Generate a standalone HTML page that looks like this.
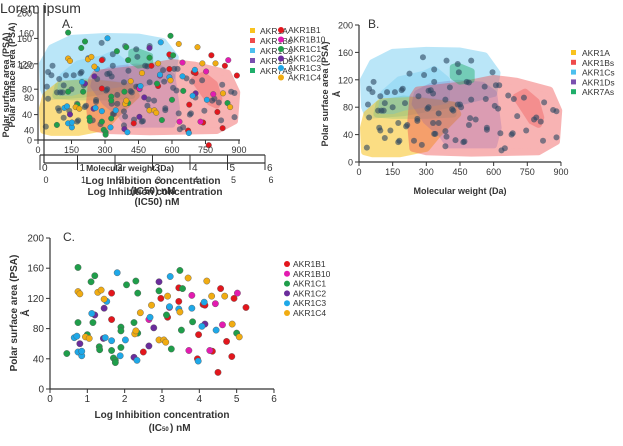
<!DOCTYPE html>
<html><head><meta charset="utf-8"><style>
body{margin:0;background:#fff;width:623px;height:446px;overflow:hidden;font-family:"Liberation Sans",sans-serif}
svg{position:absolute;left:0;top:0}
text{font-family:"Liberation Sans",sans-serif;fill:#333}
</style></head><body>
<svg id="s" width="623" height="446"></svg>
<script>
// ---- Panel B data (MW Da, PSA Å) ----
const bMW=[45,40,65,60,95,125,160,190,195,225,285,290,335,335,390,440,500,445,480,490,595,610,625,560,565,500,450,455,440,385,405,310,320,330,265,100,110,85,150,205,115,45,90,95,115,140,35,175,180,175,210,215,245,260,260,280,305,310,330,335,340,355,355,415,420,385,390,385,430,465,470,495,520,490,570,570,620,605,630,635,650,665,690,680,685,705,735,745,780,790,810,820,825,865,880,880];
const bPSA=[107,84,117,102,96,102,102,105,107,129,153,127,135,117,148,143,148,131,117,116,131,112,112,110,92,91,84,80,84,91,109,104,105,100,96,75,75,75,80,86,86,65,50,46,35,46,21,57,31,29,52,54,31,60,63,25,78,80,57,41,41,57,71,77,75,45,37,23,32,29,30,64,62,54,50,47,78,82,42,17,20,97,92,40,42,67,94,46,62,65,59,31,87,76,74,36];
const groups=["AKR1A","AKR1Bs","AKR1Cs","AKR1Ds","AKR7As"];
const gColors=["#f9c31f","#ef4b4b","#4cc0ee","#7a4fb0","#1fae6a"];
// ---- Panel C data (log IC50, PSA) ----
const cSeries=["AKR1B1","AKR1B10","AKR1C1","AKR1C2","AKR1C3","AKR1C4"];
const cColors=["#e3161c","#e31bb0","#1f9e4a","#6a2c9c","#1ea8e8","#f1ac12"];
const cX=[
[1.65,1.65,2.5,2.97,3.15,3.45,3.45,3.95,3.98,4.1,4.15,4.35,4.5,4.57,4.73,4.87,4.93,5.25],
[2.65,3.2,3.72,3.8,4.28,4.43,4.62,5.02],
[0.45,0.75,0.75,1.0,1.1,1.15,1.2,1.32,1.33,1.65,1.7,1.75,1.75,1.9,1.9,1.9,2.05,2.25,2.3,2.35,2.35,2.92,3.12,3.25,3.48,3.52,3.55,3.82,5.0],
[0.8,1.2,1.43,1.45,2.25,2.65,2.78,2.92,4.15],
[0.65,0.72,0.75,0.85,0.85,1.12,1.48,1.52,1.65,1.8,1.88,2.02,2.33,2.68,3.22,3.2,3.45,3.8,3.97,4.07,4.13,4.45],
[0.75,0.8,0.95,1.05,1.28,1.37,1.45,2.27,2.3,2.42,2.72,2.92,3.05,3.1,3.15,3.48,3.7,4.2,4.33,4.68,4.88,5.07]];
const cY=[
[127,92,49,120,95,134,116,40,72,112,111,50,22,133,63,43,120,108],
[92,108,51,124,51,113,85,127],
[47,161,88,72,142,88,150,56,52,51,41,38,35,82,77,55,138,88,143,127,74,130,98,53,157,78,133,89,74],
[60,98,67,107,42,57,81,142,86],
[68,70,49,44,50,100,68,116,64,154,44,65,38,95,149,109,106,107,37,83,115,78],
[129,126,69,67,128,131,119,73,77,101,111,65,65,62,123,102,147,143,123,123,86,69]];
const mwTicks=[0,150,300,450,600,750,900];
const psaTicks=[0,40,80,120,160,200];
const logTicks=[0,1,2,3,4,5,6];
// blob outlines (value space)
const blobs=[
 {c:2,o:.38,p:[[25,80],[20,120],[60,145],[150,160],[300,163],[450,162],[560,155],[615,130],[600,100],[420,85],[200,72],[40,68]]},
 {c:0,o:.55,p:[[25,15],[20,50],[35,70],[100,88],[250,90],[420,83],[440,70],[350,40],[300,20],[180,12],[60,12]]},
 {c:4,o:.18,p:[[80,70],[90,85],[200,92],[330,88],[420,83],[420,70],[300,68],[150,68]]},
 {c:2,o:.25,p:[[100,75],[110,100],[180,120],[290,128],[335,135],[390,120],[390,90],[300,85],[200,80],[150,75]]},
 {c:1,o:.42,p:[[240,95],[260,105],[450,112],[600,122],[700,118],[850,105],[890,75],[880,30],[800,15],[500,13],[300,15],[240,20],[230,55]]},
 {c:3,o:.22,p:[[260,100],[320,110],[440,115],[550,112],[600,100],[620,50],[600,25],[400,25],[370,40],[300,60],[250,85]]},
 {c:4,o:.45,p:[[420,138],[440,140],[500,132],[500,120],[450,118],[420,125]]},
 {c:1,o:.35,p:[[700,95],[740,102],[790,88],[810,65],[800,55],[770,60],[740,75]]}];
const NS="http://www.w3.org/2000/svg",svg=document.getElementById('s');
function el(t,a,p){const e=document.createElementNS(NS,t);for(const k in a)e.setAttribute(k,a[k]);(p||svg).appendChild(e);return e;}
function txt(x,y,s,a,p){const e=el('text',Object.assign({x:x,y:y,'font-size':9},a||{}),p);e.textContent=s;return e;}

function drawBlobs(sx,sy,g){
 blobs.forEach(b=>{const gg=el('g',{opacity:b.o},g);
  const e=el('polygon',{points:b.p.map(q=>sx(q[0])+','+sy(q[1])).join(' '),fill:gColors[b.c],stroke:gColors[b.c],'stroke-width':7,'stroke-linejoin':'round'},gg);
  
  });
}
function drawB(sx,sy,g){
 bMW.forEach((v,i)=>{const e=el('circle',{cx:sx(v),cy:sy(bPSA[i]),r:3,fill:'#2c4660','fill-opacity':.6},g);
  
  });
}
function drawC(sx,sy,g,r){
 cX.forEach((xs,s)=>xs.forEach((v,i)=>{const e=el('circle',{cx:sx(v),cy:sy(cY[s][i]),r:r,fill:cColors[s],stroke:'#555','stroke-width':.4},g);
  
  }));
}
function axes(x0,y0,x1,yTop,xt,sx,yt,sy,g,fs){
 el('line',{x1:x0,y1:y0,x2:x1,y2:y0,stroke:'#333','stroke-width':1.2},g);
 el('line',{x1:x0,y1:y0,x2:x0,y2:yTop,stroke:'#333','stroke-width':1.2},g);
 xt.forEach(t=>{el('line',{x1:sx(t),y1:y0,x2:sx(t),y2:y0+4,stroke:'#333'},g);txt(sx(t),y0+13,String(t),{'text-anchor':'middle','font-size':fs,fill:'#444'},g);});
 yt.forEach(t=>{el('line',{x1:x0-4,y1:sy(t),x2:x0,y2:sy(t),stroke:'#333'},g);txt(x0-6,sy(t)+3.5,String(t),{'text-anchor':'end','font-size':fs,fill:'#444'},g);});
}
// ---------- Panel B ----------
const gB=el('g',{});
const bx=v=>359+v*0.2244,by=v=>162-v*0.685;
drawBlobs(bx,by,gB);drawB(bx,by,gB);
axes(359,162,561,25,mwTicks,bx,psaTicks,by,gB,9);
txt(368,28,'B.',{'font-size':12,fill:'#222'},gB);
txt(460,194,'Molecular weight (Da)',{'text-anchor':'middle','font-weight':'bold','font-size':9,fill:'#222'},gB);
txt(0,0,'Polar surface area (PSA)',{'text-anchor':'middle','font-weight':'bold','font-size':9,fill:'#222',transform:'translate(328,94) rotate(-90)'},gB);
txt(0,0,'Å',{'text-anchor':'middle','font-weight':'bold','font-size':9,fill:'#222',transform:'translate(340,94) rotate(-90)'},gB);
groups.forEach((n,i)=>{el('rect',{x:571,y:50+i*9.8,width:5,height:5,fill:gColors[i]},gB);const t=txt(582,56+i*9.8,n,{'font-size':8.5,fill:'#444'},gB);});
// ---------- Panel C ----------
const gC=el('g',{});
const cx=v=>50+v*37.33,cy=v=>389-v*0.755;
drawC(cx,cy,gC,3.2);
axes(50,389,274,238,logTicks,cx,psaTicks,cy,gC,10);
txt(63,241,'C.',{'font-size':12,fill:'#222'},gC);
txt(162,418,'Log Inhibition concentration',{'text-anchor':'middle','font-weight':'bold','font-size':10,fill:'#222'},gC);
txt(162,431,'(IC',{'text-anchor':'end','font-weight':'bold','font-size':10,fill:'#222'},gC);
txt(162,431,'50',{'font-weight':'bold','font-size':6,fill:'#222'},gC);
txt(170,431,') nM',{'font-weight':'bold','font-size':10,fill:'#222'},gC);
txt(0,0,'Polar surface area (PSA)',{'text-anchor':'middle','font-weight':'bold','font-size':10,fill:'#222',transform:'translate(17,313) rotate(-90)'},gC);
txt(0,0,'Å',{'text-anchor':'middle','font-weight':'bold','font-size':10,fill:'#222',transform:'translate(29,313) rotate(-90)'},gC);
cSeries.forEach((n,i)=>{el('circle',{cx:287,cy:264+i*9.8,r:3,fill:cColors[i]},gC);const t=txt(293,267+i*9.8,n,{'font-size':8.5,fill:'#444'},gC);});
// ---------- Panel A (overlay) ----------
const gA=el('g',{});
const ax=v=>38+v*0.2233,ay=v=>140-v*0.635;
drawBlobs(ax,ay,gA);drawB(ax,ay,gA);
const acx=v=>40+v*37.5,acy=v=>163-v*0.81;
drawC(acx,acy,gA,2.8);
axes(38,140,240,13,mwTicks,ax,psaTicks,ay,gA,9);
el('line',{x1:40,y1:155,x2:265,y2:155,stroke:'#333','stroke-width':1.2},gA);
el('line',{x1:44,y1:163,x2:265,y2:163,stroke:'#333','stroke-width':1.2},gA);
el('line',{x1:44,y1:163,x2:44,y2:5,stroke:'#333','stroke-width':1.2},gA);
logTicks.forEach(t=>{el('line',{x1:acx(t),y1:155,x2:acx(t),y2:170,stroke:'#333'},gA);txt(acx(t)+2,171,String(t),{'font-size':10,fill:'#444'},gA);txt(acx(t)+6,183,String(t),{'text-anchor':'middle','font-size':9,fill:'#555'},gA);});
[40,80,120,160].forEach(t=>txt(34,acy(t)+3,String(t),{'text-anchor':'end','font-size':9,fill:'#444'},gA));
txt(0,13,'Lorem ipsum',{'font-size':14,fill:'#333'},gA);
txt(62,28,'A.',{'font-size':12,fill:'#222'},gA);
txt(130,171,'Molecular weight (Da)',{'text-anchor':'middle','font-weight':'bold','font-size':8.5,fill:'#333'},gA);
txt(153,184,'Log Inhibition concentration',{'text-anchor':'middle','font-weight':'bold','font-size':10,fill:'#222'},gA);
txt(155,195,'Log Inhibition concentration',{'text-anchor':'middle','font-weight':'bold','font-size':10,fill:'#333'},gA);
txt(157,205,'(IC50) nM',{'text-anchor':'middle','font-weight':'bold','font-size':10,fill:'#333'},gA);
txt(153,194,'(IC50) nM',{'text-anchor':'middle','font-weight':'bold','font-size':10,fill:'#333'},gA);
txt(0,0,'Polar surface area (PSA)',{'text-anchor':'middle','font-weight':'bold','font-size':9,fill:'#222',transform:'translate(9,85) rotate(-90)'},gA);
txt(0,0,'Polar surface area (PSA)',{'text-anchor':'middle','font-weight':'bold','font-size':9,fill:'#222',transform:'translate(15,75) rotate(-90)'},gA);
groups.forEach((n,i)=>{el('rect',{x:250,y:28+i*10,width:5,height:5,fill:gColors[i]},gA);txt(260,34+i*10,n,{'font-size':8.5,fill:'#444'},gA);});
cSeries.forEach((n,i)=>{el('circle',{cx:281,cy:30+i*9.5,r:3,fill:cColors[i]},gA);txt(288,33+i*9.5,n,{'font-size':8.5,fill:'#444'},gA);});
</script>
</body></html>
